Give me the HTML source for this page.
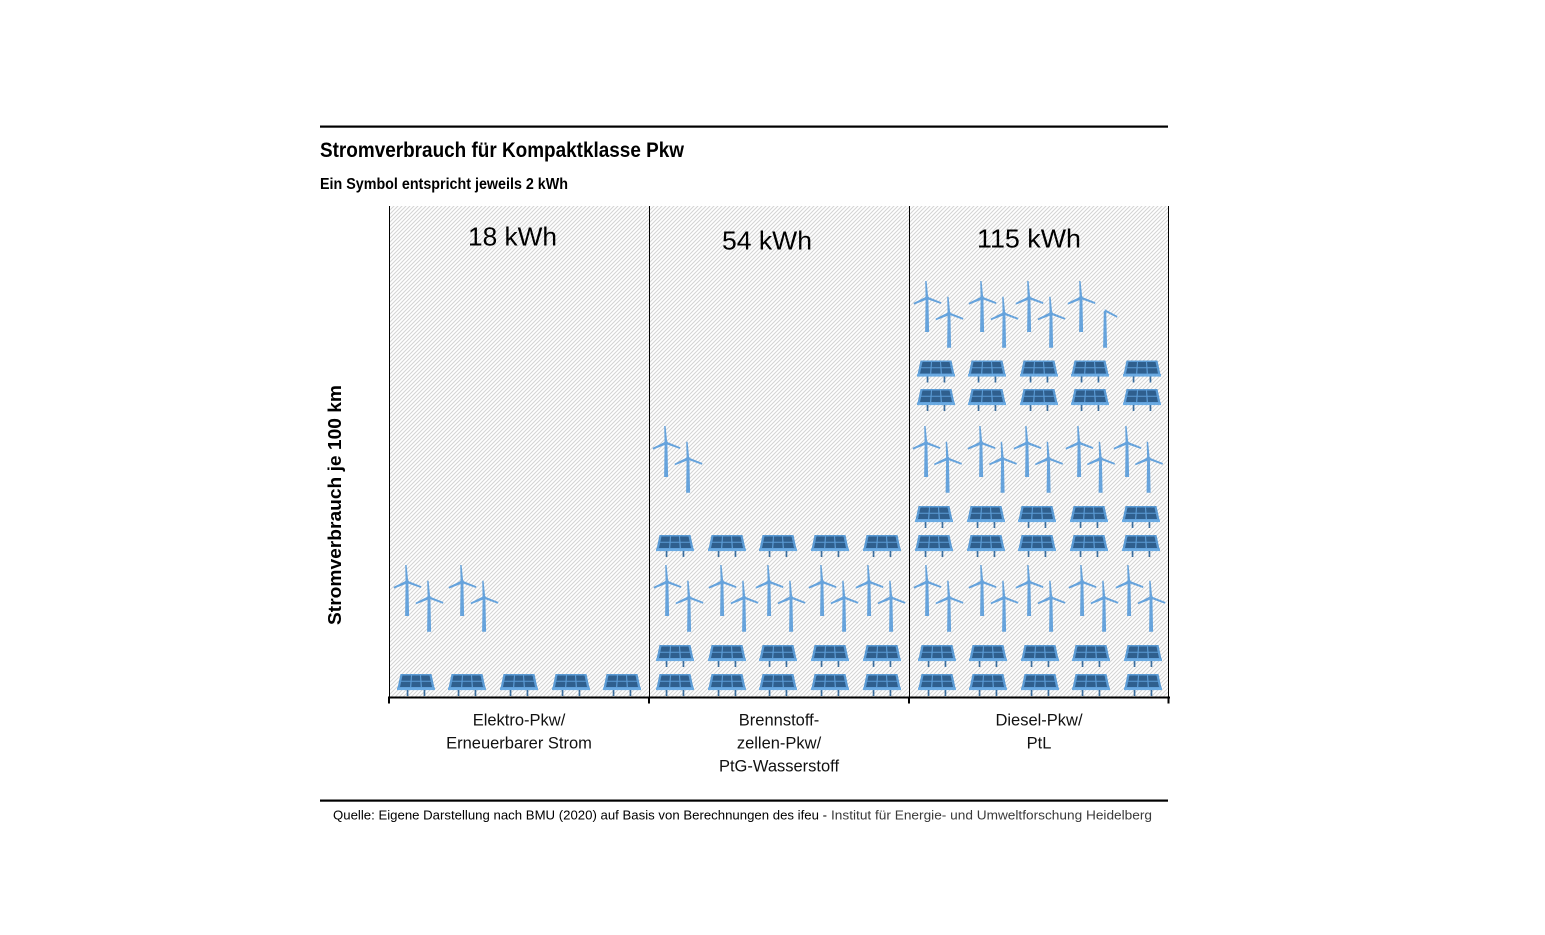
<!DOCTYPE html>
<html>
<head>
<meta charset="utf-8">
<style>
  html, body { margin:0; padding:0; background:#fff; }
  svg { display:block; }
  text { font-family: "Liberation Sans", "DejaVu Sans", sans-serif; }
</style>
</head>
<body>
<svg width="1545" height="935" viewBox="0 0 1545 935" xmlns="http://www.w3.org/2000/svg">
  <defs>
    <pattern id="hatch" patternUnits="userSpaceOnUse" width="4" height="4">
      <path d="M-1,1 L1,-1 M0,4 L4,0 M3,5 L5,3" stroke="#d3d3d3" stroke-width="1.05" fill="none"/>
    </pattern>
    <g id="tb" fill="#66a3dc">
      <polygon points="-1.4,1 1.4,1 2.1,34 -1.9,34"/>
      <polygon points="-1.4,0 1.2,-0.5 -0.4,-17 -1.8,-17"/>
      <polygon points="-0.6,-1.4 0.6,1.3 -13,6.6 -13.4,4.9"/>
      <polygon points="-0.4,-1.6 0.4,1.2 14,6 14.4,4.3"/>
      <circle r="2"/>
    </g>
    <g id="tbhalf" fill="#66a3dc">
      <polygon points="-1.2,-3 1.2,-3 2.1,34 -1.9,34"/>
      <polygon points="-0.4,-4.6 0.4,-1.8 12,4.0 12.4,2.3"/>
    </g>
    <g id="pv">
      <polygon points="-15.5,0 15.5,0 18.5,14 -18.5,14" fill="#5b9bd5"/>
      <rect x="-19" y="13.5" width="38" height="2.6" fill="#6aaae2"/>
      <g fill="#2f5f8e">
        <polygon points="-13.5,1.5 -5.05,1.5 -5.48,6.8 -14.66,6.8"/>
        <polygon points="-3.97,1.5 3.97,1.5 4.31,6.8 -4.31,6.8"/>
        <polygon points="5.05,1.5 13.5,1.5 14.66,6.8 5.48,6.8"/>
        <polygon points="-14.87,7.8 -5.56,7.8 -5.98,13 -15.98,13"/>
        <polygon points="-4.37,7.8 4.37,7.8 4.7,13 -4.7,13"/>
        <polygon points="5.56,7.8 14.87,7.8 15.98,13 5.98,13"/>
      </g>
      <rect x="-9.3" y="16" width="1.7" height="6" fill="#3b6e9e"/>
      <rect x="7.6" y="16" width="1.7" height="6" fill="#3b6e9e"/>
    </g>
  </defs>

  <!-- top rule -->
  <rect x="320" y="125.5" width="848" height="2.2" fill="#000"/>
  <text x="320" y="157" font-size="21" font-weight="bold" textLength="364" lengthAdjust="spacingAndGlyphs">Stromverbrauch für Kompaktklasse Pkw</text>
  <text x="320" y="189" font-size="15.5" font-weight="bold" textLength="248" lengthAdjust="spacingAndGlyphs">Ein Symbol entspricht jeweils 2 kWh</text>

  <!-- plot background -->
  <rect x="389" y="206" width="779" height="491" fill="url(#hatch)"/>

  <!-- kWh labels -->
  <text x="512.5" y="245.5" font-size="26" text-anchor="middle" textLength="89" lengthAdjust="spacingAndGlyphs">18 kWh</text>
  <text x="767" y="249.5" font-size="26" text-anchor="middle" textLength="90" lengthAdjust="spacingAndGlyphs">54 kWh</text>
  <text x="1029" y="247.5" font-size="26" text-anchor="middle" textLength="104" lengthAdjust="spacingAndGlyphs">115 kWh</text>

  <!-- Column 1 -->
  <use href="#pv" x="416" y="674"/>
  <use href="#pv" x="467" y="674"/>
  <use href="#pv" x="519" y="674"/>
  <use href="#pv" x="571" y="674"/>
  <use href="#pv" x="622" y="674"/>
  <use href="#tb" x="407" y="582"/>
  <use href="#tb" x="429" y="597.7"/>
  <use href="#tb" x="462" y="582"/>
  <use href="#tb" x="484" y="597.7"/>

  <!-- Column 2 -->
  <use href="#pv" x="675" y="674"/>
  <use href="#pv" x="727" y="674"/>
  <use href="#pv" x="778" y="674"/>
  <use href="#pv" x="830" y="674"/>
  <use href="#pv" x="882" y="674"/>
  <use href="#pv" x="675" y="645"/>
  <use href="#pv" x="727" y="645"/>
  <use href="#pv" x="778" y="645"/>
  <use href="#pv" x="830" y="645"/>
  <use href="#pv" x="882" y="645"/>
  <use href="#tb" x="667" y="582"/>
  <use href="#tb" x="689" y="597.7"/>
  <use href="#tb" x="722" y="582"/>
  <use href="#tb" x="744" y="597.7"/>
  <use href="#tb" x="769" y="582"/>
  <use href="#tb" x="791" y="597.7"/>
  <use href="#tb" x="822" y="582"/>
  <use href="#tb" x="844" y="597.7"/>
  <use href="#tb" x="869" y="582"/>
  <use href="#tb" x="891" y="597.7"/>
  <use href="#pv" x="675" y="535"/>
  <use href="#pv" x="727" y="535"/>
  <use href="#pv" x="778" y="535"/>
  <use href="#pv" x="830" y="535"/>
  <use href="#pv" x="882" y="535"/>
  <use href="#tb" x="666" y="443"/>
  <use href="#tb" x="688" y="458.7"/>

  <!-- Column 3 -->
  <use href="#pv" x="937" y="674"/>
  <use href="#pv" x="988" y="674"/>
  <use href="#pv" x="1040" y="674"/>
  <use href="#pv" x="1091" y="674"/>
  <use href="#pv" x="1143" y="674"/>
  <use href="#pv" x="937" y="645"/>
  <use href="#pv" x="988" y="645"/>
  <use href="#pv" x="1040" y="645"/>
  <use href="#pv" x="1091" y="645"/>
  <use href="#pv" x="1143" y="645"/>
  <use href="#tb" x="927" y="582"/>
  <use href="#tb" x="949" y="597.7"/>
  <use href="#tb" x="982" y="582"/>
  <use href="#tb" x="1004" y="597.7"/>
  <use href="#tb" x="1029" y="582"/>
  <use href="#tb" x="1051" y="597.7"/>
  <use href="#tb" x="1082" y="582"/>
  <use href="#tb" x="1104" y="597.7"/>
  <use href="#tb" x="1129" y="582"/>
  <use href="#tb" x="1151" y="597.7"/>
  <use href="#pv" x="934" y="535"/>
  <use href="#pv" x="986" y="535"/>
  <use href="#pv" x="1037" y="535"/>
  <use href="#pv" x="1089" y="535"/>
  <use href="#pv" x="1141" y="535"/>
  <use href="#pv" x="934" y="506"/>
  <use href="#pv" x="986" y="506"/>
  <use href="#pv" x="1037" y="506"/>
  <use href="#pv" x="1089" y="506"/>
  <use href="#pv" x="1141" y="506"/>
  <use href="#tb" x="926" y="443"/>
  <use href="#tb" x="947.5" y="458.7"/>
  <use href="#tb" x="981" y="443"/>
  <use href="#tb" x="1002.5" y="458.7"/>
  <use href="#tb" x="1027" y="443"/>
  <use href="#tb" x="1048.5" y="458.7"/>
  <use href="#tb" x="1079" y="443"/>
  <use href="#tb" x="1100.5" y="458.7"/>
  <use href="#tb" x="1127" y="443"/>
  <use href="#tb" x="1148.5" y="458.7"/>
  <use href="#pv" x="936" y="389"/>
  <use href="#pv" x="987" y="389"/>
  <use href="#pv" x="1039" y="389"/>
  <use href="#pv" x="1090" y="389"/>
  <use href="#pv" x="1142" y="389"/>
  <use href="#pv" x="936" y="360.5"/>
  <use href="#pv" x="987" y="360.5"/>
  <use href="#pv" x="1039" y="360.5"/>
  <use href="#pv" x="1090" y="360.5"/>
  <use href="#pv" x="1142" y="360.5"/>
  <use href="#tb" x="927" y="298"/>
  <use href="#tb" x="949" y="313.7"/>
  <use href="#tb" x="982" y="298"/>
  <use href="#tb" x="1004" y="313.7"/>
  <use href="#tb" x="1029" y="298"/>
  <use href="#tb" x="1051" y="313.7"/>
  <use href="#tb" x="1081" y="298"/>
  <use href="#tbhalf" x="1105" y="313.7"/>

  <!-- frame lines -->
  <rect x="389" y="206" width="1" height="492" fill="#000"/>
  <rect x="649" y="206" width="1" height="492" fill="#000"/>
  <rect x="909" y="206" width="1" height="492" fill="#000"/>
  <rect x="1168" y="206" width="1" height="492" fill="#000"/>
  <rect x="388" y="696.5" width="782" height="2" fill="#000"/>
  <rect x="388" y="696.5" width="2" height="7" fill="#000"/>
  <rect x="648" y="696.5" width="2" height="7" fill="#000"/>
  <rect x="908" y="696.5" width="2" height="7" fill="#000"/>
  <rect x="1167.5" y="696.5" width="2" height="7" fill="#000"/>

  <!-- y axis label -->
  <text transform="translate(341,505) rotate(-90)" x="0" y="0" font-size="18" font-weight="bold" text-anchor="middle" textLength="240" lengthAdjust="spacingAndGlyphs">Stromverbrauch je 100 km</text>

  <!-- category labels -->
  <g font-size="16.5" text-anchor="middle" fill="#111">
    <text x="519" y="725.5">Elektro-Pkw/</text>
    <text x="519" y="748.5">Erneuerbarer Strom</text>
    <text x="779" y="725.5">Brennstoff-</text>
    <text x="779" y="748.5">zellen-Pkw/</text>
    <text x="779" y="771.5">PtG-Wasserstoff</text>
    <text x="1039" y="725.5">Diesel-Pkw/</text>
    <text x="1039" y="748.5">PtL</text>
  </g>

  <!-- footer -->
  <rect x="320" y="799.5" width="848" height="2.2" fill="#000"/>
  <text x="333" y="819.5" font-size="13" textLength="494" lengthAdjust="spacingAndGlyphs">Quelle: Eigene Darstellung nach BMU (2020) auf Basis von Berechnungen des ifeu -</text>
  <text x="831" y="819.5" font-size="13" fill="#3a3a3a" textLength="321" lengthAdjust="spacingAndGlyphs">Institut für Energie- und Umweltforschung Heidelberg</text>
</svg>
</body>
</html>
